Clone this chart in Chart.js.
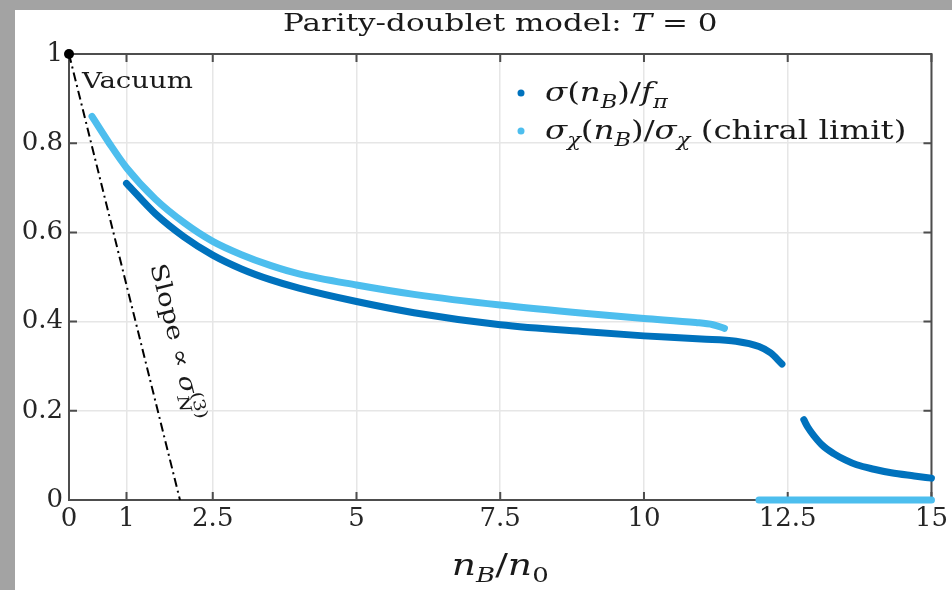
<!DOCTYPE html>
<html>
<head>
<meta charset="utf-8">
<script src="https://cdn.jsdelivr.net/npm/chart.js@4"></script>
<style>
  body { margin: 0; background: #a3a3a3; width: 952px; height: 590px; overflow: hidden; }
  #wrap { position: absolute; left: 15px; top: 10px; width: 937px; height: 580px; background: #fff; }
</style>
</head>
<body>
<div id="wrap"><canvas id="chart"></canvas></div>
<script>
// sigma(nB)/f_pi, before the jump
const sigmaX1 = [1.0, 1.5, 2.0, 2.5, 3.0, 3.5, 4.0, 5.0, 6.0, 7.5, 9.0, 10.0, 11.0, 11.6, 12.0, 12.2, 12.4];
const sigmaY1 = [0.71, 0.642, 0.59, 0.549, 0.518, 0.494, 0.475, 0.445, 0.42, 0.393, 0.377, 0.368, 0.361, 0.356, 0.344, 0.33, 0.305];
// sigma(nB)/f_pi, after the jump
const sigmaX2 = [12.78, 12.85, 12.95, 13.1, 13.3, 13.5, 13.7, 14.0, 14.3, 14.7, 15.0];
const sigmaY2 = [0.18, 0.163, 0.145, 0.123, 0.104, 0.09, 0.079, 0.069, 0.061, 0.054, 0.049];
// chiral limit
const chiralX1 = [0.4, 0.7, 1.0, 1.5, 2.0, 2.5, 3.0, 3.5, 4.0, 5.0, 6.0, 7.5, 9.0, 10.0, 10.9, 11.2, 11.4];
const chiralY1 = [0.86, 0.8, 0.745, 0.675, 0.622, 0.58, 0.55, 0.526, 0.507, 0.482, 0.461, 0.437, 0.418, 0.407, 0.398, 0.393, 0.385];
const chiralX2 = [12.0, 15.0];
const chiralY2 = [0, 0];
// slope line from the vacuum point
const slopeX = [0, 1.93];
const slopeY = [1, 0];
const vacuumX = [0];
const vacuumY = [1];

const xTicks = [0, 1, 2.5, 5, 7.5, 10, 12.5, 15];
const yTicks = [0, 0.2, 0.4, 0.6, 0.8, 1];

const DARK = '#0072BD';
const LIGHT = '#4DBEEE';
const FONT = '"DejaVu Serif"';

const pts = (xs, ys) => xs.map((x, i) => ({ x: x, y: ys[i] }));

function curve(xs, ys, color) {
    return {
        data: pts(xs, ys),
        borderColor: color,
        borderWidth: 7,
        borderCapStyle: 'round',
        pointRadius: 0,
        cubicInterpolationMode: 'monotone',
        clip: false
    };
}

// draws text made of runs: [text, flags] with i = italic, b = subscript, p = superscript, k = keep x
// sx stretches the text horizontally
function rich(ctx, runs, x, y, size, align, sx) {
    sx = sx || 1;
    const fontFor = f => (f.includes('i') ? 'italic ' : '') +
        Math.round(f.includes('b') || f.includes('p') ? size * 0.68 : size) + 'px ' + FONT;
    let w = 0;
    runs.forEach(r => {
        ctx.font = fontFor(r[1]);
        r.w = ctx.measureText(r[0]).width;
        if (!r[1].includes('k')) w += r.w;
    });
    ctx.save();
    ctx.translate(x, y);
    ctx.scale(sx, 1);
    let cx = align === 'center' ? -w / 2 : 0;
    runs.forEach(r => {
        const f = r[1];
        ctx.font = fontFor(f);
        const dy = f.includes('b') ? size * 0.25 : f.includes('p') ? -size * 0.38 : 0;
        ctx.fillText(r[0], cx, dy);
        if (!f.includes('k')) cx += r.w;
    });
    ctx.restore();
}

const decorations = {
    id: 'decorations',
    beforeDatasetsDraw(chart) {
        const { ctx, chartArea: a, scales: { x, y } } = chart;
        ctx.save();
        ctx.strokeStyle = '#4d4d4d';
        ctx.lineWidth = 2;
        ctx.strokeRect(a.left, a.top, a.right - a.left, a.bottom - a.top);
        ctx.beginPath();
        xTicks.forEach(v => {
            const px = x.getPixelForValue(v);
            ctx.moveTo(px, a.bottom); ctx.lineTo(px, a.bottom - 8);
            ctx.moveTo(px, a.top); ctx.lineTo(px, a.top + 8);
        });
        yTicks.forEach(v => {
            const py = y.getPixelForValue(v);
            ctx.moveTo(a.left, py); ctx.lineTo(a.left + 8, py);
            ctx.moveTo(a.right, py); ctx.lineTo(a.right - 8, py);
        });
        ctx.stroke();
        ctx.restore();
    },
    afterDraw(chart) {
        const { ctx, chartArea: a, scales: { x, y } } = chart;
        ctx.save();
        ctx.fillStyle = '#1a1a1a';
        ctx.textBaseline = 'alphabetic';

        // title
        rich(ctx, [['Parity-doublet model: ', ''], ['T', 'i'], [' = 0', '']], (a.left + a.right) / 2, 21, 25, 'center', 1.24);

        // legend
        const lx = a.left + 452;
        [[DARK, 39, [['σ', 'i'], ['(', ''], ['n', 'i'], ['B', 'ib'], [')/', ''], ['f', 'i'], ['π', 'ib']]],
         [LIGHT, 77, [['σ', 'i'], ['χ', 'ib'], ['(', ''], ['n', 'i'], ['B', 'ib'], [')/', ''], ['σ', 'i'], ['χ', 'ib'], [' (chiral limit)', '']]]]
            .forEach(([c, dy, runs]) => {
                ctx.fillStyle = c;
                ctx.beginPath();
                ctx.arc(lx, a.top + dy, 3.5, 0, Math.PI * 2);
                ctx.fill();
                ctx.fillStyle = '#1a1a1a';
                rich(ctx, runs, lx + 24, a.top + dy + 8, 26, 'left', 1.25);
            });

        // vacuum label
        rich(ctx, [['Vacuum', '']], a.left + 13, a.top + 34, 23, 'left', 1.2);

        // slope label, rotated along the dash-dot line
        const x0 = x.getPixelForValue(slopeX[0]), y0 = y.getPixelForValue(slopeY[0]);
        const x1 = x.getPixelForValue(slopeX[1]), y1 = y.getPixelForValue(slopeY[1]);
        const ang = Math.atan2(y1 - y0, x1 - x0);
        ctx.translate(x.getPixelForValue(1.87), y.getPixelForValue(0.354));
        ctx.rotate(ang);
        rich(ctx, [['Slope ∝ ', ''], ['σ', 'i'], ['N', 'ibk'], ['(3)', 'p']], 0, 7, 23, 'center', 1.2);
        ctx.restore();

        // x axis title
        ctx.save();
        ctx.fillStyle = '#1a1a1a';
        rich(ctx, [['n', 'i'], ['B', 'ib'], ['/', ''], ['n', 'i'], ['0', 'b']], (a.left + a.right) / 2, 565, 29, 'center', 1.3);
        ctx.restore();
    }
};

const tickFont = { family: FONT, size: 26 };

new Chart(document.getElementById('chart'), {
    type: 'line',
    data: {
        datasets: [
            curve(chiralX1, chiralY1, LIGHT),
            curve(chiralX2, chiralY2, LIGHT),
            curve(sigmaX1, sigmaY1, DARK),
            curve(sigmaX2, sigmaY2, DARK),
            {
                data: pts(slopeX, slopeY),
                borderColor: '#000',
                borderWidth: 2,
                borderDash: [9, 4, 2, 4],
                pointRadius: 0,
                clip: false
            },
            {
                data: pts(vacuumX, vacuumY),
                showLine: false,
                pointRadius: 5,
                pointBackgroundColor: '#000',
                pointBorderWidth: 0,
                clip: false
            }
        ]
    },
    options: {
        responsive: true,
        maintainAspectRatio: false,
        animation: false,
        layout: { padding: { top: 44, right: 17, left: 0, bottom: 0 } },
        plugins: {
            legend: { display: false },
            tooltip: { enabled: false }
        },
        scales: {
            x: {
                type: 'linear',
                min: 0,
                max: 15,
                afterBuildTicks: s => { s.ticks = xTicks.map(v => ({ value: v })); },
                afterFit: s => { s.height = 90; },
                ticks: {
                    autoSkip: false,
                    maxRotation: 0,
                    padding: 4,
                    color: '#262626',
                    font: tickFont,
                    callback: v => String(v)
                },
                grid: { color: '#e6e6e6', lineWidth: 1.5, drawTicks: false },
                border: { display: false }
            },
            y: {
                min: 0,
                max: 1,
                afterBuildTicks: s => { s.ticks = yTicks.map(v => ({ value: v })); },
                afterFit: s => { s.width = 54; },
                ticks: {
                    padding: 6,
                    color: '#262626',
                    font: tickFont,
                    callback: v => String(v)
                },
                grid: { color: '#e6e6e6', lineWidth: 1.5, drawTicks: false },
                border: { display: false }
            }
        }
    },
    plugins: [decorations]
});
</script>
</body>
</html>
